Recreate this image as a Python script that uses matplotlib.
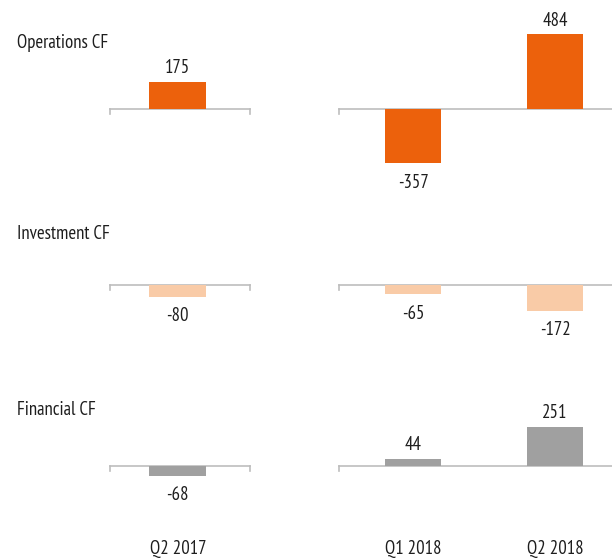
import matplotlib
matplotlib.use("Agg")
import matplotlib.pyplot as plt

# ---- data ----
rows = ["Operations CF", "Investment CF", "Financial CF"]
left_categories = ["Q2 2017"]
right_categories = ["Q1 2018", "Q2 2018"]
operations_left = [175]
operations_right = [-357, 484]
investment_left = [-80]
investment_right = [-65, -172]
financial_left = [-68]
financial_right = [44, 251]

row_colors = ["#EC610C", "#F9CBA7", "#A0A0A0"]
left_values = [operations_left, investment_left, financial_left]
right_values = [operations_right, investment_right, financial_right]

# ---- fonts ----
plt.rcParams["font.family"] = ["PT Sans Narrow", "DejaVu Sans"]
TXT = "#1e1e1e"
FS = 13.5

W, H = 612, 559
fig = plt.figure(figsize=(W / 100, H / 100), dpi=100)

S = 0.153  # px per unit
baselines = [108.5, 284.5, 465.5]
title_y = [43, 234, 410]
LINE = "#BDBDBD"

LX = (-0.478, 0.508)
RX = (-0.521, 1.401)


def add_ax(x0, x1, yb):
    top, bot = yb - 95, yb + 75
    ax = fig.add_axes([x0 / W, 1 - bot / H, (x1 - x0) / W, (bot - top) / H])
    ax.set_ylim(-(bot - yb) / S, (yb - top) / S)
    ax.axis("off")
    return ax


def draw(ax, cats, vals, color, xlim, ticks_at):
    ax.set_xlim(*xlim)
    x = list(range(len(cats)))
    bars = ax.bar(x, vals, width=0.40, color=color, zorder=2)
    ax.plot(xlim, [0, 0], color=LINE, lw=1.2, zorder=1, clip_on=False)
    for t in ticks_at:
        ax.plot([t, t], [0, -5 / S], color=LINE, lw=1.2, zorder=1, clip_on=False)
    for b, v in zip(bars, vals):
        cx = b.get_x() + b.get_width() / 2
        if v >= 0:
            ax.annotate(f"{v}", (cx, v), xytext=(0, 3.5), textcoords="offset points",
                        ha="center", va="bottom", fontsize=FS, color=TXT)
        else:
            ax.annotate(f"{v}", (cx, v), xytext=(0, -7.5), textcoords="offset points",
                        ha="center", va="top", fontsize=FS, color=TXT)


for i, row in enumerate(rows):
    yb = baselines[i]
    axl = add_ax(110, 250, yb)
    draw(axl, left_categories, left_values[i], row_colors[i], LX, list(LX))
    axr = add_ax(339, 612, yb)
    draw(axr, right_categories, right_values[i], row_colors[i], RX, [RX[0]])
    fig.text(17 / W, 1 - title_y[i] / H, row, ha="left", va="center", fontsize=FS, color=TXT)

# category labels
for x0, x1, cats, xlim in [(110, 250, left_categories, LX), (339, 612, right_categories, RX)]:
    ax = fig.add_axes([x0 / W, 0, (x1 - x0) / W, 30 / H])
    ax.set_xlim(*xlim)
    ax.set_ylim(0, 30)
    ax.axis("off")
    for j, c in enumerate(cats):
        ax.text(j, 10, c, ha="center", va="center", fontsize=FS, color=TXT)

fig.savefig("out.png", dpi=100)
